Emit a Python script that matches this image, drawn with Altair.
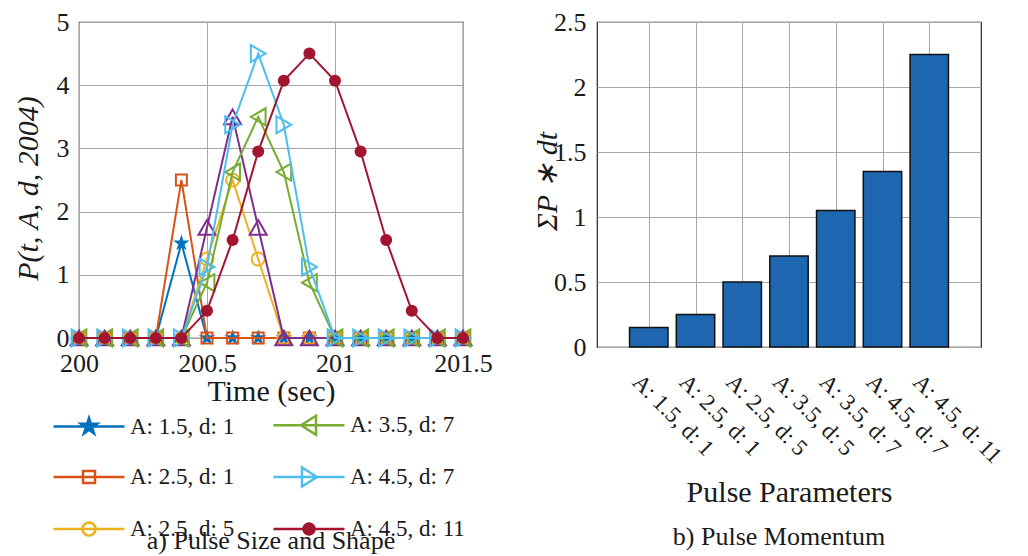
import math
import altair as alt
import pandas as pd

# ---------------- data ----------------
times = [200.0, 200.1, 200.2, 200.3, 200.4, 200.5, 200.6, 200.7,
         200.8, 200.9, 201.0, 201.1, 201.2, 201.3, 201.4, 201.5]
series_names = ["A: 1.5, d: 1", "A: 2.5, d: 1", "A: 2.5, d: 5", "A: 3.5, d: 5",
                "A: 3.5, d: 7", "A: 4.5, d: 7", "A: 4.5, d: 11"]
series_colors = ["#0072BD", "#D95319", "#EDB120", "#7E2F8E",
                 "#77AC30", "#4DBEEE", "#A2142F"]
p_a15_d1 = [0, 0, 0, 0, 1.5, 0, 0, 0, 0, 0, 0, 0, 0, 0, 0, 0]
p_a25_d1 = [0, 0, 0, 0, 2.5, 0, 0, 0, 0, 0, 0, 0, 0, 0, 0, 0]
p_a25_d5 = [0, 0, 0, 0, 0, 1.25, 2.5, 1.25, 0, 0, 0, 0, 0, 0, 0, 0]
p_a35_d5 = [0, 0, 0, 0, 0, 1.75, 3.5, 1.75, 0, 0, 0, 0, 0, 0, 0, 0]
p_a35_d7 = [0, 0, 0, 0, 0, 0.875, 2.625, 3.5, 2.625, 0.875, 0, 0, 0, 0, 0, 0]
p_a45_d7 = [0, 0, 0, 0, 0, 1.125, 3.375, 4.5, 3.375, 1.125, 0, 0, 0, 0, 0, 0]
p_a45_d11 = [0, 0, 0, 0, 0, 0.43, 1.55, 2.95, 4.07, 4.5, 4.07, 2.95, 1.55, 0.43, 0, 0]
series_values = [p_a15_d1, p_a25_d1, p_a25_d5, p_a35_d5, p_a35_d7, p_a45_d7, p_a45_d11]
x_ticks = [200, 200.5, 201, 201.5]
y_ticks = [0, 1, 2, 3, 4, 5]

momentum = [0.15, 0.25, 0.5, 0.7, 1.05, 1.35, 2.25]
momentum_ticks = [0, 0.5, 1, 1.5, 2, 2.5]

# ---------------- styles ----------------
FONT = "Liberation Serif"
TXT = "#1a1a1a"
GRID = "#a8a8a8"


def poly(pts, u=1.0):
    return "M" + "L".join(f"{x / u:.3f},{y / u:.3f}" for x, y in pts) + "Z"


def star_pts(R):
    pts = []
    for k in range(10):
        a = math.radians(-90 + 36 * k)
        r = R if k % 2 == 0 else R * 0.382
        pts.append((r * math.cos(a), r * math.sin(a)))
    return pts


def circle_pts(r, n=24):
    return [(r * math.cos(2 * math.pi * k / n), r * math.sin(2 * math.pi * k / n)) for k in range(n)]


STAR = poly(star_pts(1.0))
shapes = [STAR, "square", "circle", "triangle-up", "triangle-left", "triangle-right", "circle"]
filled = [True, False, False, False, False, False, True]
sizes = [300, 121, 169, 289, 289, 289, 144]

U = 35.5  # legend: px per half line length
LINE = "M-1,0L1,0"
legend_paths = [
    LINE + poly(star_pts(8.5), U),
    LINE + poly([(-6, -6), (6, -6), (6, 6), (-6, 6)], U),
    LINE + poly(circle_pts(6.5), U),
    LINE + poly([(0, -9), (9.5, 7), (-9.5, 7)], U),
    LINE + poly([(-8, 0), (7, -9.5), (7, 9.5)], U),
    LINE + poly([(8, 0), (-7, -9.5), (-7, 9.5)], U),
    LINE + poly(circle_pts(5.5), U),
]
legend_fills = [c if f else "transparent" for c, f in zip(series_colors, filled)]

# ---------------- left panel ----------------
rows = []
for name, vals in zip(series_names, series_values):
    for t, v in zip(times, vals):
        rows.append({"t": t, "p": v, "series": name})
df = pd.DataFrame(rows)
base = alt.Chart(df)

x_enc = alt.X("t:Q", scale=alt.Scale(domain=[200, 201.5], nice=False, zero=False),
              axis=alt.Axis(values=x_ticks, labelExpr="datum.value + ''", title="Time (sec)",
                            labelPadding=12, titlePadding=0, titleFontSize=30,
                            titleFont=FONT, labelFont=FONT))
y_enc = alt.Y("p:Q", scale=alt.Scale(domain=[0, 5], nice=False),
              axis=alt.Axis(values=y_ticks, labelExpr="datum.value + ''", title="P(t, A, d, 2004)",
                            titleFontStyle="italic", titleFontSize=30, labelPadding=10,
                            titleFont=FONT, labelFont=FONT,
                            titleX=-51, titleY=166, titleBaseline="middle", titleAngle=-90,
                            titleAlign="center"))

layers = []
for i, name in enumerate(series_names):
    sub = base.transform_filter(alt.datum.series == name)
    layers.append(sub.mark_line(strokeWidth=2, color=series_colors[i]).encode(x=x_enc, y=y_enc))
    layers.append(sub.mark_point(shape=shapes[i], size=sizes[i], filled=filled[i],
                                 color=series_colors[i], strokeWidth=2, opacity=1).encode(
        x=x_enc, y=y_enc))

leg = alt.Legend(title=None, orient="none", legendX=-27, legendY=366, columns=2,
                 symbolSize=(2 * U) ** 2, symbolStrokeWidth=2.5,
                 labelFontSize=23, labelFont=FONT, labelColor=TXT, labelOffset=4,
                 rowPadding=-18, columnPadding=33, labelLimit=400, symbolOpacity=1)
legend_layer = base.transform_filter("false").mark_point(
    filled=False, strokeWidth=2.5, opacity=1).encode(
    x=x_enc, y=y_enc,
    color=alt.Color("series:N", scale=alt.Scale(domain=series_names, range=series_colors), legend=leg),
    shape=alt.Shape("series:N", scale=alt.Scale(domain=series_names, range=legend_paths), legend=leg),
    fill=alt.Fill("series:N", scale=alt.Scale(domain=series_names, range=legend_fills), legend=leg),
)
layers.append(legend_layer)

left = alt.layer(*layers).properties(
    width=384, height=316,
    title=alt.TitleParams("a) Pulse Size and Shape", orient="bottom", fontSize=26,
                          font=FONT, fontWeight="normal", color=TXT, offset=122),
)

# ---------------- right panel ----------------
bars_df = pd.DataFrame({"pos": list(range(1, len(series_names) + 1)),
                        "name": series_names, "m": momentum})
label_expr = " : ".join(f"datum.value == {i + 1} ? '{n}'" for i, n in enumerate(series_names)) + " : ''"
right = alt.Chart(bars_df).mark_bar(orient="vertical", size=38.4, color="#1f66b0",
                                    stroke="#111111", strokeWidth=1.5).encode(
    x=alt.X("pos:Q", scale=alt.Scale(domain=[0, len(series_names) + 1], nice=False, zero=False),
            axis=alt.Axis(values=list(range(1, len(series_names) + 1)), labelExpr=label_expr,
                          labelAngle=45, labelAlign="left", labelBaseline="alphabetic",
                          labelPadding=36, labelOffset=-18, labelFontSize=23,
                          labelOverlap=False, title="Pulse Parameters", titleFontSize=30,
                          titleFont=FONT, labelFont=FONT, titlePadding=10)),
    y=alt.Y("m:Q", scale=alt.Scale(domain=[0, 2.5], nice=False),
            axis=alt.Axis(values=momentum_ticks, labelExpr="datum.value + ''", title="ΣP ∗ dt",
                          titleFontStyle="italic", titleFontSize=30, labelPadding=11,
                          titleFont=FONT, labelFont=FONT,
                          titleX=-50, titleY=159, titleBaseline="middle", titleAngle=-90,
                          titleAlign="center")),
).properties(
    width=384, height=325,
    title=alt.TitleParams("b) Pulse Momentum", orient="bottom", fontSize=26, font=FONT,
                          fontWeight="normal", color=TXT, offset=16, dx=-10),
)

chart = alt.hconcat(left, right, spacing=38,
                    padding={"left": 4, "top": 0, "right": 0, "bottom": 0}).configure(
    font=FONT
).configure_axis(
    labelFont=FONT, titleFont=FONT, labelFontSize=26, labelColor=TXT, titleColor=TXT,
    titleFontWeight="normal", grid=True, gridColor=GRID, gridWidth=1, gridOpacity=1,
    domain=False, ticks=False, labelFlush=False, labelOverlap=False,
).configure_view(stroke="#262626", strokeWidth=1.2)

chart.save("out.html", embed_options={"renderer": "svg", "actions": False})
